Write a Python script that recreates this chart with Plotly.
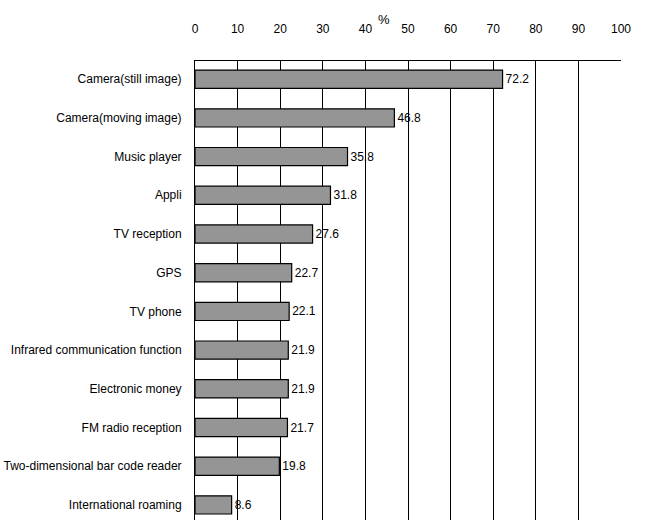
import plotly.graph_objects as go

# Mobile phone functions in use (%)
features = [
    "Camera(still image)",
    "Camera(moving image)",
    "Music player",
    "Appli",
    "TV reception",
    "GPS",
    "TV phone",
    "Infrared communication function",
    "Electronic money",
    "FM radio reception",
    "Two-dimensional bar code reader",
    "International roaming",
]
shares = [72.2, 46.8, 35.8, 31.8, 27.6, 22.7, 22.1, 21.9, 21.9, 21.7, 19.8, 8.6]
x_ticks = [0, 10, 20, 30, 40, 50, 60, 70, 80, 90, 100]

FONT = "Liberation Sans Narrow, Arial Narrow, Liberation Sans, Arial, sans-serif"

fig = go.Figure(
    go.Bar(
        x=shares,
        y=features,
        orientation="h",
        width=0.47,
        text=[f"{v}" for v in shares],
        textposition="outside",
        textfont=dict(family=FONT, size=12, color="black"),
        cliponaxis=False,
        marker=dict(
            line=dict(color="black", width=1.2),
            pattern=dict(shape=".", size=2, solidity=0.5,
                         fgcolor="#444444", bgcolor="#d4d4d4",
                         fillmode="replace"),
        ),
    )
)

fig.update_layout(
    width=645,
    height=520,
    margin=dict(l=195, r=24, t=61, b=0),
    paper_bgcolor="white",
    plot_bgcolor="white",
    showlegend=False,
    font=dict(family=FONT, size=12, color="black"),
    xaxis=dict(
        side="top",
        range=[0, 100],
        tickvals=x_ticks,
        ticktext=[str(t) for t in x_ticks],
        showgrid=True,
        gridcolor="black",
        gridwidth=1,
        showline=True,
        linecolor="black",
        linewidth=1,
        ticks="",
        ticklabelstandoff=22,
        tickfont=dict(family=FONT, size=12, color="black"),
        zeroline=False,
        fixedrange=True,
    ),
    yaxis=dict(
        type="category",
        categoryorder="array",
        categoryarray=features,
        range=[11.39, -0.47],
        showgrid=False,
        showline=True,
        linecolor="black",
        linewidth=1,
        ticks="",
        ticklabelstandoff=10,
        tickfont=dict(family=FONT, size=12, color="black"),
        zeroline=False,
        fixedrange=True,
    ),
    annotations=[
        dict(
            text="%",
            x=45,
            xref="x",
            y=1,
            yref="paper",
            yanchor="middle",
            yshift=42,
            xshift=-3,
            showarrow=False,
            font=dict(family=FONT, size=13, color="black"),
        )
    ],
)

fig.write_html("out.html")
